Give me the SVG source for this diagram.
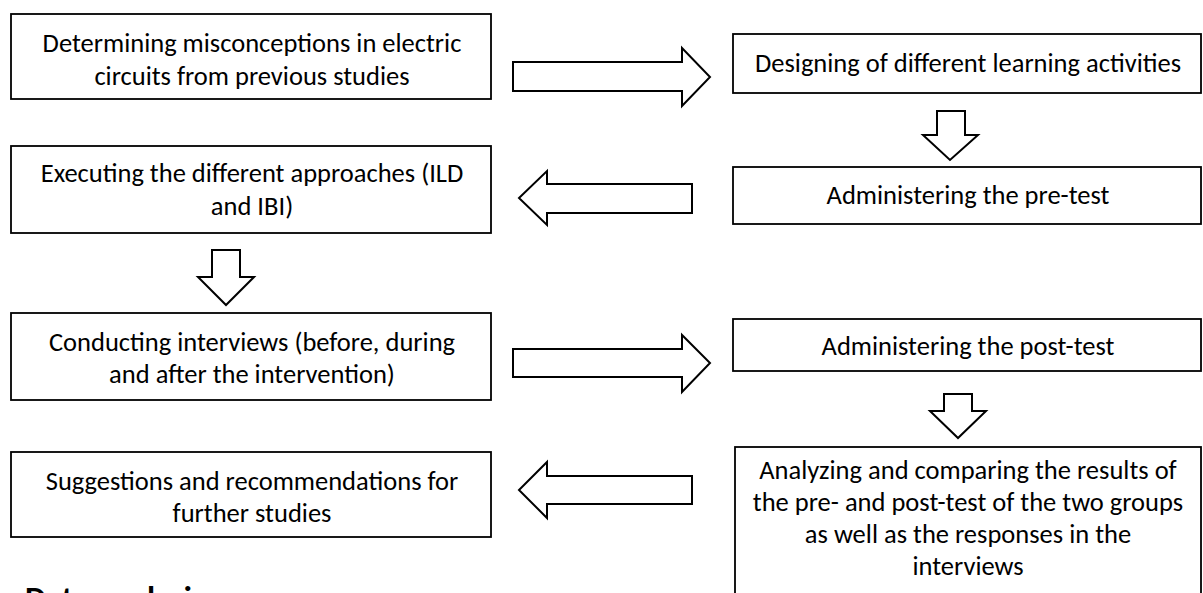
<svg xmlns="http://www.w3.org/2000/svg" width="1203" height="593" viewBox="0 0 1203 593">
  <style>
    .box { fill: #ffffff; stroke: #000000; stroke-width: 1.8; }
    .arrow { fill: #ffffff; stroke: #000000; stroke-width: 2; stroke-linejoin: miter; }
    .label { font-family: Carlito, Calibri, Lato, "Liberation Sans", sans-serif; font-size: 26.5px; fill: #000000; text-anchor: middle; }
    .heading { font-family: Carlito, Calibri, Lato, "Liberation Sans", sans-serif; font-size: 33px; font-weight: bold; fill: #000000; }
  </style>
  <rect width="1203" height="593" fill="#ffffff"/>

  <!-- process steps -->
  <g id="step-misconceptions">
    <rect class="box" x="11" y="14" width="480" height="85"/>
    <text class="label" x="252" y="52">Determining misconceptions in electric</text>
    <text class="label" x="252" y="85">circuits from previous studies</text>
  </g>
  <g id="step-design">
    <rect class="box" x="733" y="34" width="468" height="59"/>
    <text class="label" x="968" y="72">Designing of different learning activities</text>
  </g>
  <g id="step-pretest">
    <rect class="box" x="733" y="167" width="468" height="57"/>
    <text class="label" x="968" y="204">Administering the pre-test</text>
  </g>
  <g id="step-execute">
    <rect class="box" x="11" y="146" width="480" height="87"/>
    <text class="label" x="252" y="182">Executing the different approaches (ILD</text>
    <text class="label" x="252" y="215">and IBI)</text>
  </g>
  <g id="step-interviews">
    <rect class="box" x="11" y="313" width="480" height="87"/>
    <text class="label" x="252" y="351">Conducting interviews (before, during</text>
    <text class="label" x="252" y="383">and after the intervention)</text>
  </g>
  <g id="step-posttest">
    <rect class="box" x="733" y="319" width="468" height="52"/>
    <text class="label" x="968" y="355">Administering the post-test</text>
  </g>
  <g id="step-suggestions">
    <rect class="box" x="11" y="452" width="480" height="85"/>
    <text class="label" x="252" y="490">Suggestions and recommendations for</text>
    <text class="label" x="252" y="522">further studies</text>
  </g>
  <g id="step-analysis">
    <rect class="box" x="735" y="447" width="466" height="170"/>
    <text class="label" x="968" y="479">Analyzing and comparing the results of</text>
    <text class="label" x="968" y="511">the pre- and post-test of the two groups</text>
    <text class="label" x="968" y="543">as well as the responses in the</text>
    <text class="label" x="968" y="575">interviews</text>
  </g>

  <!-- block arrows between steps -->
  <g id="connectors">
    <path class="arrow" d="M513,62 H682 V48 L710,77 L682,106 V91 H513 Z"/>
    <path class="arrow" d="M937,111 V135 H923 L950,160 L978,135 H965 V111 Z"/>
    <path class="arrow" d="M692,184 H547 V171 L519,198 L547,225 V213 H692 Z"/>
    <path class="arrow" d="M212,250 V277 H198 L226,305 L254,277 H240 V250 Z"/>
    <path class="arrow" d="M513,349 H682 V335 L710,363 L682,392 V377 H513 Z"/>
    <path class="arrow" d="M944,394 V411 H930 L958,438 L986,411 H972 V394 Z"/>
    <path class="arrow" d="M692,476 H547 V462 L519,490 L547,518 V504 H692 Z"/>
  </g>

  <!-- section heading below the chart -->
  <text class="heading" x="25" y="609">Data analysis</text>
</svg>
